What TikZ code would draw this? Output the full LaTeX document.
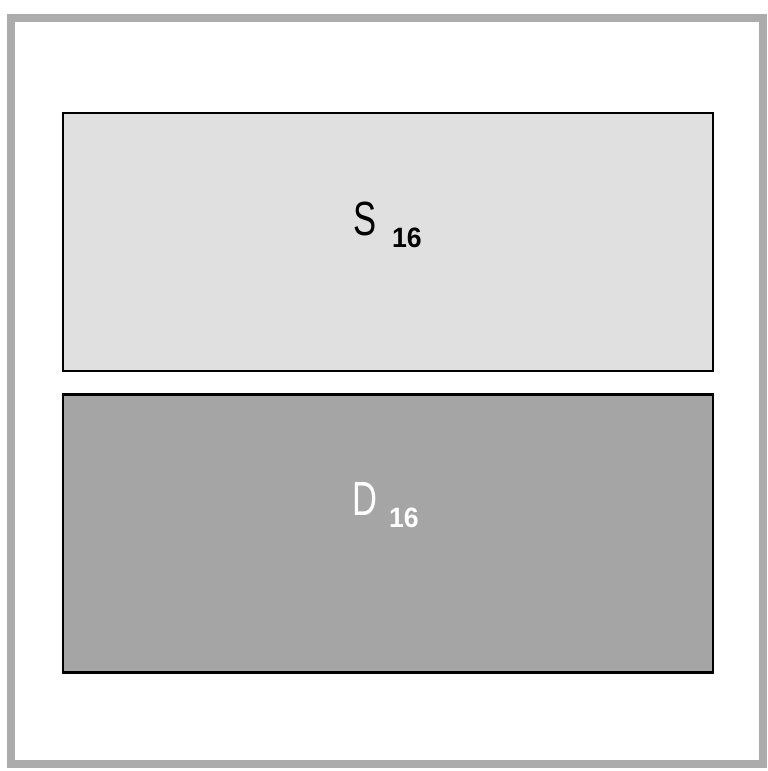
\documentclass[tikz,border=0pt]{standalone}
\usepackage{fontspec}
\setmainfont{Liberation Sans}
\usetikzlibrary{positioning}
\definecolor{framegray}{RGB}{172,172,172}
\definecolor{lightfill}{RGB}{224,224,224}
\definecolor{darkfill}{RGB}{165,165,165}
\newcommand{\narrow}[1]{\scalebox{0.72}[1]{#1}}

\begin{document}
\begin{tikzpicture}[x=1pt,y=-1pt,box/.style={draw=black,line width=2.5pt,minimum width=650pt,inner sep=0pt},big/.style={inner sep=0pt,anchor=base west,font=\fontsize{48}{50}\selectfont},small/.style={inner sep=0pt,anchor=base west,font=\fontsize{28}{30}\selectfont\bfseries}]
\useasboundingbox (0,0) rectangle (768,771);
\draw[framegray,line width=8pt] (11,18) rectangle (763,764);
\node[box,fill=lightfill,minimum height=258pt](sbox) at (388,242){}; \node[box,fill=darkfill,minimum height=278pt,below=21pt of sbox](dbox){};
% labels
\node[big](sname) at (353,235){\narrow{S}}; \node[small](snum) at (392,247){\scalebox{0.95}[1]{16}};
\node[big,white](dname) at (352,515){\narrow{D}}; \node[small,white](dnum) at (389,527){\scalebox{0.95}[1]{16}};
\end{tikzpicture}
\end{document}
